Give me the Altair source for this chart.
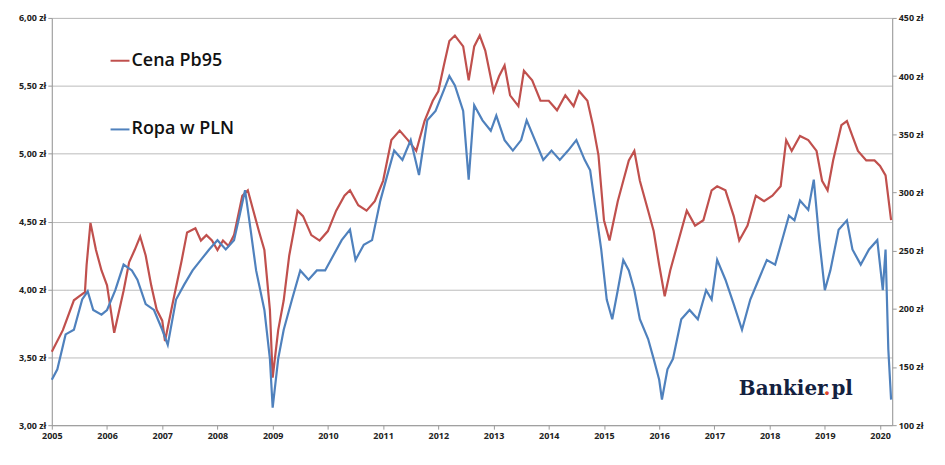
import altair as alt
import pandas as pd

# Cena Pb95 (zł/l)
pb_t = [2005.0, 2005.2, 2005.4, 2005.5, 2005.6, 2005.63, 2005.7, 2005.8, 2005.9, 2006.0, 2006.13, 2006.3, 2006.4,
        2006.5, 2006.6, 2006.7, 2006.8, 2006.9, 2007.0, 2007.05, 2007.2, 2007.35, 2007.45, 2007.6, 2007.7, 2007.8,
        2007.9, 2008.0, 2008.1, 2008.2, 2008.3, 2008.45, 2008.55, 2008.65, 2008.75, 2008.85, 2008.95, 2009.0,
        2009.1, 2009.2, 2009.3, 2009.45, 2009.55, 2009.7, 2009.85, 2010.0, 2010.15, 2010.3, 2010.4, 2010.55,
        2010.7, 2010.85, 2011.0, 2011.15, 2011.3, 2011.45, 2011.6, 2011.75, 2011.9, 2012.0, 2012.1, 2012.2,
        2012.3, 2012.45, 2012.55, 2012.65, 2012.75, 2012.85, 2013.0, 2013.1, 2013.2, 2013.3, 2013.45, 2013.55,
        2013.7, 2013.85, 2014.0, 2014.15, 2014.3, 2014.45, 2014.55, 2014.7, 2014.8, 2014.9, 2015.0, 2015.1,
        2015.25, 2015.35, 2015.45, 2015.55, 2015.65, 2015.8, 2015.9, 2016.0, 2016.1, 2016.2, 2016.35, 2016.5,
        2016.65, 2016.8, 2016.95, 2017.05, 2017.2, 2017.35, 2017.45, 2017.6, 2017.75, 2017.9, 2018.05, 2018.2,
        2018.3, 2018.4, 2018.55, 2018.7, 2018.85, 2018.95, 2019.05, 2019.15, 2019.3, 2019.4, 2019.5, 2019.6,
        2019.75, 2019.9, 2020.0, 2020.1, 2020.2]
pb_v = [3.54, 3.70, 3.92, 3.95, 3.98, 4.18, 4.49, 4.29, 4.14, 4.03, 3.68, 3.99, 4.20,
        4.29, 4.39, 4.25, 4.03, 3.85, 3.77, 3.62, 3.92, 4.21, 4.42, 4.45, 4.36, 4.40,
        4.36, 4.29, 4.36, 4.32, 4.40, 4.69, 4.73, 4.58, 4.43, 4.29, 3.85, 3.35,
        3.70, 3.92, 4.25, 4.58, 4.54, 4.40, 4.36, 4.43, 4.58, 4.69, 4.73, 4.62,
        4.58, 4.65, 4.80, 5.10, 5.17, 5.10, 5.02, 5.24, 5.39, 5.46, 5.65, 5.83,
        5.87, 5.79, 5.54, 5.79, 5.87, 5.76, 5.46, 5.57, 5.65, 5.43, 5.35, 5.61,
        5.54, 5.39, 5.39, 5.32, 5.43, 5.35, 5.46, 5.39, 5.21, 4.99, 4.51, 4.36,
        4.65, 4.80, 4.95, 5.02, 4.80, 4.58, 4.43, 4.18, 3.95, 4.14, 4.36, 4.58,
        4.47, 4.51, 4.73, 4.76, 4.73, 4.54, 4.36, 4.47, 4.69, 4.65, 4.69, 4.76,
        5.10, 5.02, 5.13, 5.10, 5.02, 4.80, 4.73, 4.95, 5.21, 5.24, 5.13, 5.02,
        4.95, 4.95, 4.91, 4.84, 4.51]

# Ropa w PLN (zł/baryłka)
oil_t = [2005.0, 2005.1, 2005.25, 2005.4, 2005.55, 2005.65, 2005.75, 2005.9, 2006.0, 2006.15, 2006.3, 2006.45,
         2006.55, 2006.7, 2006.85, 2007.0, 2007.1, 2007.25, 2007.4, 2007.55, 2007.7, 2007.85, 2008.0, 2008.15,
         2008.3, 2008.4, 2008.5, 2008.6, 2008.7, 2008.85, 2008.95, 2009.0, 2009.1, 2009.2, 2009.35, 2009.5,
         2009.65, 2009.8, 2009.95, 2010.1, 2010.25, 2010.4, 2010.5, 2010.65, 2010.8, 2010.95, 2011.1, 2011.2,
         2011.35, 2011.5, 2011.65, 2011.8, 2011.95, 2012.1, 2012.2, 2012.3, 2012.45, 2012.55, 2012.65, 2012.8,
         2012.95, 2013.05, 2013.2, 2013.35, 2013.5, 2013.6, 2013.75, 2013.9, 2014.05, 2014.2, 2014.35, 2014.5,
         2014.65, 2014.75, 2014.85, 2014.95, 2015.05, 2015.15, 2015.25, 2015.35, 2015.45, 2015.55, 2015.65,
         2015.8, 2015.9, 2016.0, 2016.05, 2016.15, 2016.25, 2016.4, 2016.55, 2016.7, 2016.85, 2016.95, 2017.05,
         2017.2, 2017.35, 2017.5, 2017.65, 2017.8, 2017.95, 2018.1, 2018.25, 2018.35, 2018.45, 2018.55, 2018.7,
         2018.8, 2018.9, 2019.0, 2019.1, 2019.25, 2019.4, 2019.5, 2019.65, 2019.8, 2019.95, 2020.05, 2020.1,
         2020.15, 2020.2]
oil_v = [139, 148, 178, 182, 208, 215, 199, 195, 199, 216, 238, 233,
         225, 204, 199, 182, 169, 208, 221, 233, 242, 251, 259, 251,
         259, 280, 302, 268, 233, 199, 157, 115, 157, 182, 208, 233,
         225, 233, 233, 246, 259, 268, 242, 255, 259, 293, 319, 336,
         328, 345, 315, 362, 370, 388, 400, 392, 370, 311, 375, 362,
         353, 366, 345, 336, 345, 362, 345, 328, 336, 328, 336, 345,
         328, 319, 285, 251, 208, 191, 216, 242, 233, 216, 191,
         174, 157, 139, 122, 148, 157, 191, 199, 191, 216, 208, 242,
         225, 204, 182, 208, 225, 242, 238, 263, 280, 276, 293, 285,
         311, 259, 216, 233, 268, 276, 251, 238, 251, 259, 216, 251,
         165, 122]

RED = "#C0504D"
BLUE = "#4F81BD"
FONT = "Open Sans"

pb = pd.DataFrame({"rok": pb_t, "cena": pb_v})
oil = pd.DataFrame({"rok": oil_t, "ropa": oil_v})

x = alt.X("rok:Q", scale=alt.Scale(domain=[2005, 2020.22], nice=False),
          axis=alt.Axis(values=list(range(2005, 2021)), format="d", title=None, grid=False,
                        labelFlush=False,
                        labelFontSize=9, labelFontWeight="bold", labelColor="#222",
                        domainColor="#999", tickColor="#999", tickSize=4))

red_line = alt.Chart(pb).mark_line(color=RED, strokeWidth=2.2).encode(
    x=x,
    y=alt.Y("cena:Q", scale=alt.Scale(domain=[3, 6], nice=False),
            axis=alt.Axis(values=[3, 3.5, 4, 4.5, 5, 5.5, 6], title=None,
                          labelExpr="replace(format(datum.value, '.2f'), '.', ',') + ' zł'",
                          labelFontSize=9, labelFontWeight="bold", labelColor="#222",
                          gridColor="#bbb", domainColor="#999", tickColor="#999", tickSize=4)),
)

blue_line = alt.Chart(oil).mark_line(color=BLUE, strokeWidth=2.2).encode(
    x=x,
    y=alt.Y("ropa:Q", scale=alt.Scale(domain=[100, 450], nice=False),
            axis=alt.Axis(orient="right", values=list(range(100, 451, 50)), title=None, grid=False,
                          labelExpr="datum.value + ' zł'",
                          labelFontSize=9, labelFontWeight="bold", labelColor="#222",
                          domainColor="#999", tickColor="#999", tickSize=4)),
)

leg_df = pd.DataFrame({"k": [0]})
legend_layers = []
for label, color, py in [("Cena Pb95", RED, 43), ("Ropa w PLN", BLUE, 112)]:
    legend_layers.append(alt.Chart(leg_df).mark_rule(color=color, strokeWidth=2).encode(
        x=alt.value(59), x2=alt.value(78), y=alt.value(py)))
    legend_layers.append(alt.Chart(leg_df).mark_text(
        text=label, align="left", baseline="middle", font=FONT, fontSize=18, fontWeight=600, color="#111"
    ).encode(x=alt.value(80), y=alt.value(py)))

logo_parts = [("Bankier", "#13213f", 690), (".", "#e0462a", 775), ("pl", "#13213f", 783)]
logo = [
    alt.Chart(leg_df).mark_text(
        text=t, align="left", baseline="middle", font="DejaVu Serif", fontSize=20,
        fontWeight="bold", color=c
    ).encode(x=alt.value(px), y=alt.value(373))
    for t, c, px in logo_parts
]

chart = (
    alt.layer(red_line, blue_line, *legend_layers, *logo)
    .resolve_scale(y="independent")
    .properties(width=844, height=409,
                autosize=alt.AutoSizeParams(type="none"),
                padding={"left": 44, "top": 9, "right": 45, "bottom": 30})
    .configure_view(strokeWidth=0)
    .configure(font=FONT)
)

chart.save("out.html", embed_options={"renderer": "svg", "actions": False})
